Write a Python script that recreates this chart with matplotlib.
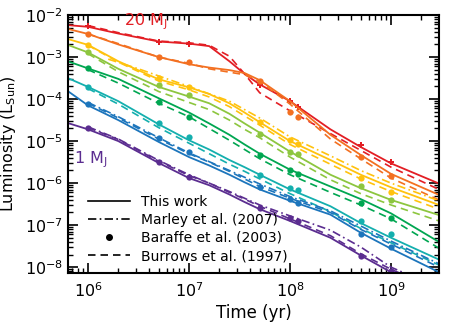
import numpy as np
import matplotlib
matplotlib.use("Agg")
import matplotlib.pyplot as plt
from matplotlib.lines import Line2D

# log10(time / yr) grids
t_work = [5.8, 6.0, 6.3, 6.7, 7.0, 7.2, 7.4, 7.55, 7.7, 8.0, 8.4, 8.7, 9.0, 9.475]
t_burrows = [6.0, 6.3, 6.7, 7.0, 7.2, 7.4, 7.55, 7.7, 8.0, 8.4, 8.7, 9.0, 9.475]
t_baraffe = [6.0, 6.7, 7.0, 7.7, 8.0, 8.08, 8.7, 9.0]
t_marley = [6.0, 6.3, 6.7, 7.0, 7.4, 7.7, 8.0, 8.4, 8.7, 9.0, 9.475]
t_marley_hi = [6.2, 6.5, 6.7, 7.0, 7.4, 7.7, 8.0, 8.4, 8.7, 9.0, 9.475]

# log10(L / L_sun), "this work", top (20 MJ) to bottom (1 MJ)
work_red = [-2.24, -2.28, -2.44, -2.63, -2.68, -2.74, -3.10, -3.40, -3.65, -4.05, -4.72, -5.14, -5.53, -6.01]
work_orange = [-2.33, -2.45, -2.70, -3.00, -3.17, -3.25, -3.31, -3.38, -3.55, -4.05, -4.85, -5.33, -5.78, -6.28]
work_gold = [-2.57, -2.71, -3.10, -3.53, -3.72, -3.88, -4.10, -4.32, -4.55, -5.00, -5.45, -5.80, -6.10, -6.52]
work_lgreen = [-2.71, -2.89, -3.28, -3.71, -3.94, -4.10, -4.35, -4.58, -4.80, -5.25, -5.80, -6.12, -6.40, -6.76]
work_green = [-3.10, -3.27, -3.52, -3.98, -4.32, -4.58, -4.85, -5.08, -5.30, -5.68, -6.08, -6.38, -6.72, -7.40]
work_teal = [-3.50, -3.71, -4.05, -4.60, -4.98, -5.20, -5.45, -5.62, -5.80, -6.15, -6.55, -6.95, -7.30, -7.82]
work_blue = [-3.81, -4.15, -4.50, -5.02, -5.38, -5.58, -5.80, -5.98, -6.15, -6.42, -6.75, -7.18, -7.56, -8.12]
work_purple = [-4.57, -4.72, -5.00, -5.52, -5.88, -6.05, -6.27, -6.45, -6.62, -6.90, -7.30, -7.72, -8.12, -8.60]

# Burrows et al. (1997)
bur_red = [-2.25, -2.42, -2.62, -2.66, -2.72, -2.98, -3.40, -3.85, -4.28, -4.82, -5.22, -5.62, -6.15]
bur_orange = [-2.45, -2.68, -3.00, -3.15, -3.28, -3.36, -3.42, -3.58, -4.12, -4.95, -5.42, -5.88, -6.40]
bur_gold = [-2.72, -3.12, -3.57, -3.78, -3.95, -4.18, -4.40, -4.62, -5.08, -5.55, -5.90, -6.20, -6.62]
bur_lgreen = [-2.92, -3.35, -3.82, -4.08, -4.25, -4.50, -4.72, -4.92, -5.38, -5.92, -6.25, -6.52, -6.90]
bur_green = [-3.30, -3.62, -4.10, -4.42, -4.70, -4.98, -5.20, -5.42, -5.80, -6.22, -6.52, -6.85, -7.55]
bur_teal = [-3.75, -4.12, -4.68, -5.05, -5.30, -5.55, -5.72, -5.90, -6.25, -6.68, -7.08, -7.42, -7.95]
bur_blue = [-4.10, -4.45, -4.95, -5.30, -5.50, -5.72, -5.90, -6.08, -6.36, -6.70, -7.10, -7.45, -8.00]
bur_purple = [-4.68, -4.96, -5.48, -5.82, -6.00, -6.22, -6.38, -6.55, -6.85, -7.25, -7.68, -8.05, -8.55]

# Baraffe et al. (2003)
bar_red = [-2.27, -2.63, -2.70, -3.66, -4.05, -4.20, -5.10, -5.50]
bar_orange = [-2.45, -2.99, -3.11, -3.56, -4.30, -4.42, -5.38, -5.83]
bar_gold = [-2.71, -3.51, -3.71, -4.55, -4.98, -5.08, -5.87, -6.21]
bar_lgreen = [-2.89, -3.67, -3.90, -4.82, -5.25, -5.31, -6.07, -6.40]
bar_green = [-3.27, -4.08, -4.42, -5.33, -5.69, -5.79, -6.48, -6.82]
bar_teal = [-3.72, -4.58, -4.90, -5.80, -6.11, -6.17, -6.90, -7.21]
bar_blue = [-4.12, -4.92, -5.25, -6.09, -6.38, -6.48, -7.20, -7.53]
bar_purple = [-4.70, -5.49, -5.85, -6.59, -6.83, -6.90, -7.74, -8.08]

# Marley et al. (2007)
mar_gold = [-3.05, -3.28, -3.45, -3.70, -4.05, -4.45, -4.90, -5.35, -5.70, -6.00, -6.42]
mar_blue = [-4.08, -4.42, -4.92, -5.28, -5.70, -6.02, -6.32, -6.66, -7.02, -7.38, -7.92]
mar_purple = [-4.66, -4.95, -5.46, -5.80, -6.20, -6.52, -6.78, -7.12, -7.52, -8.00, -8.50]

colors = ["#E31E24", "#F37021", "#FFC20E", "#8DC63F", "#00A651", "#14AFAE", "#1C75BC", "#5B2D90"]
work = [work_red, work_orange, work_gold, work_lgreen, work_green, work_teal, work_blue, work_purple]
burrows = [bur_red, bur_orange, bur_gold, bur_lgreen, bur_green, bur_teal, bur_blue, bur_purple]
baraffe = [bar_red, bar_orange, bar_gold, bar_lgreen, bar_green, bar_teal, bar_blue, bar_purple]

dashdot = (0, (5, 2, 1, 2))
dashed = (0, (4.5, 3))

plt.rcParams["font.family"] = "DejaVu Sans"
fig = plt.figure(figsize=(4.58, 3.27), dpi=100)
ax = fig.add_axes([0.1485, 0.165, 0.81, 0.789])

for i, c in enumerate(colors):
    ax.plot(10 ** np.array(t_burrows), 10 ** np.array(burrows[i]), color=c, lw=1.2, ls=dashed)
    ax.plot(10 ** np.array(t_work), 10 ** np.array(work[i]), color=c, lw=1.3)
    mk = "P" if i == 0 else "o"
    ax.plot(10 ** np.array(t_baraffe), 10 ** np.array(baraffe[i]), ls="none",
            marker=mk, ms=4.5, color=c, mew=0)

ax.plot(10 ** np.array(t_marley_hi), 10 ** np.array(mar_gold), color=colors[2], lw=1.2, ls=dashdot)
ax.plot(10 ** np.array(t_marley), 10 ** np.array(mar_blue), color=colors[6], lw=1.2, ls=dashdot)
ax.plot(10 ** np.array(t_marley), 10 ** np.array(mar_purple), color=colors[7], lw=1.2, ls=dashdot)

ax.set_xscale("log")
ax.set_yscale("log")
ax.set_xlim(10 ** 5.802, 10 ** 9.475)
ax.set_ylim(10 ** -8.14, 1e-2)

ax.tick_params(which="both", direction="in", top=True, right=True, labelsize=11.5)
ax.tick_params(which="major", length=7, width=1.2)
ax.tick_params(which="minor", length=3.5, width=1)
ax.tick_params(axis="x", pad=6)
for s in ax.spines.values():
    s.set_linewidth(1.5)

ax.set_xlabel("Time (yr)", fontsize=12, labelpad=3)
ax.set_ylabel("Luminosity (L$_\\mathregular{Sun}$)", fontsize=11.5)
ax.yaxis.set_label_coords(-0.135, 0.5)

ax.text(10 ** 6.57, 10 ** -2.17, "20 M$_\\mathregular{J}$", color=colors[0], fontsize=11.5, ha="center", va="center")
ax.text(10 ** 6.03, 10 ** -5.45, "1 M$_\\mathregular{J}$", color=colors[7], fontsize=11.5, ha="center", va="center")

handles = [
    Line2D([], [], color="k", lw=1.2),
    Line2D([], [], color="k", lw=1.2, ls=dashdot),
    Line2D([], [], color="k", ls="none", marker="o", ms=4),
    Line2D([], [], color="k", lw=1.2, ls=dashed),
]
labels = ["This work", "Marley et al. (2007)", "Baraffe et al. (2003)", "Burrows et al. (1997)"]
ax.legend(handles, labels, loc="lower left", bbox_to_anchor=(0.02, -0.01), frameon=False,
          fontsize=10, handlelength=3.0, labelspacing=0.3, handletextpad=0.8, borderpad=0.4)

fig.savefig("out.png", dpi=100)
